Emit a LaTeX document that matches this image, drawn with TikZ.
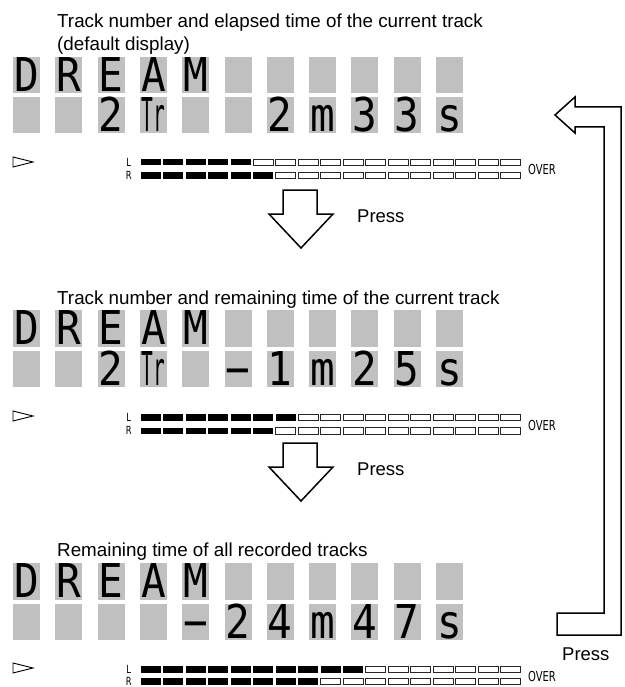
\documentclass[tikz,border=0pt]{standalone}
\usepackage{fontspec}
\setmainfont{Liberation Sans}
\newfontfamily\lcdfont{DejaVu Sans Mono}
\newfontfamily\smallfont{DejaVu Sans}
\definecolor{lcdgray}{RGB}{192,192,192}
\tikzset{
  cellbox/.style={fill=lcdgray, minimum width=27pt, minimum height=36.5pt, inner sep=0pt,
    text height=33pt, text depth=0pt, font=\fontsize{46.6}{46.6}\selectfont\lcdfont},
  titletext/.style={anchor=base west, inner sep=0pt, font=\fontsize{18.8}{22}\selectfont},
  presslabel/.style={anchor=base west, inner sep=0pt, font=\fontsize{18.5}{22}\selectfont},
  emptybar/.style={draw=black!85, line width=0.7pt, fill=white},
  hollow/.style={draw=black, line width=1.5pt, fill=white, line join=miter},
  meterlabel/.style={inner sep=0pt, font=\fontsize{11.2}{12}\selectfont\smallfont},
  overlabel/.style={inner sep=0pt, font=\fontsize{13.7}{14}\selectfont\smallfont},
  playmark/.style={draw=black, line width=0.9pt, line join=miter},
}
\newcommand\trglyph{\scalebox{1}[2.1]{\fontsize{22.2}{22.2}\selectfont Tr}}
\newcommand\lcdrow[3]{%
  \foreach \c [count=\i from 0] in {#3} {%
    \node[cellbox] (#1-\i) at ({26.5+42.3*\i},{#2+18.25}) {\makebox[0pt]{\scalebox{0.88}[1]{\c}}};%
  }%
}
\newcommand\meterrow[2]{%
  \foreach \k in {0,...,16} {%
    \ifnum\k<#2\relax
      \fill[black] ({140.5+22.5*\k},{#1}) rectangle ++(20,6.5);%
    \else
      \draw[emptybar] ({140.5+22.5*\k},{#1}) rectangle ++(20,6.5);%
    \fi
  }%
}
\newcommand\meterblock[6]{% #1 name, #2 Ly, #3 Ry, #4 nL, #5 nR, #6 triangle top
  \meterrow{#2}{#4}
  \meterrow{#3}{#5}
  \node[meterlabel] (#1L) at (128.7,{#2+3.2}) {\scalebox{0.75}[1]{L}};
  \node[meterlabel] (#1R) at (128.7,{#3+3.4}) {\scalebox{0.75}[1]{R}};
  \node[overlabel] (#1over) at (542,{(#2+#3)/2+4.5}) {\scalebox{0.73}[1]{OVER}};
  \draw[playmark] (13,#6) -- (33,{#6+5}) -- (13,{#6+10}) -- cycle;
}
\newcommand\downarrowat[1]{%
  \draw[hollow] (283,#1) -- (317,#1) -- (317,{#1+24}) -- (333,{#1+24}) -- (301,{#1+58})
    -- (269,{#1+24}) -- (283,{#1+24}) -- cycle;
}
\begin{document}
\begin{tikzpicture}[x=1pt,y=-1pt]
\useasboundingbox (0,0) rectangle (624,687);
% ---------- section 1
\node[titletext] (t1a) at (57,28) {Track number and elapsed time of the current track};
\node[titletext] (t1b) at (57,51) {(default display)};
\lcdrow{a1}{57}{D,R,E,A,M,{},{},{},{},{},{}}
\lcdrow{b1}{97}{{},{},2,\trglyph,{},{},2,m,3,3,s}
\meterblock{m1}{159}{172}{5}{6}{157}
\downarrowat{190}
\node[presslabel] (p1) at (357,222) {Press};
% ---------- section 2
\node[titletext] (t2a) at (57,304) {Track number and remaining time of the current track};
\lcdrow{a2}{310}{D,R,E,A,M,{},{},{},{},{},{}}
\lcdrow{b2}{350.5}{{},{},2,\trglyph,{},−,1,m,2,5,s}
\meterblock{m2}{414}{427.5}{7}{6}{411}
\downarrowat{443}
\node[presslabel] (p2) at (357,475) {Press};
% ---------- section 3
\node[titletext] (t3a) at (57,556) {Remaining time of all recorded tracks};
\lcdrow{a3}{563}{D,R,E,A,M,{},{},{},{},{},{}}
\lcdrow{b3}{603.5}{{},{},{},{},−,2,4,m,4,7,s}
\meterblock{m3}{666}{678}{10}{8}{663}
% ---------- return arrow
\coordinate (rtip) at (555,115);
\draw[hollow] (rtip) -- (575,97) -- (575,107) -- (621,107) -- (621,635) -- (557,635)
  -- (557,613) -- (604,613) -- (604,127) -- (575,127) -- (575,133) -- cycle;
\node[presslabel] (p3) at (562,660) {Press};
\end{tikzpicture}
\end{document}
